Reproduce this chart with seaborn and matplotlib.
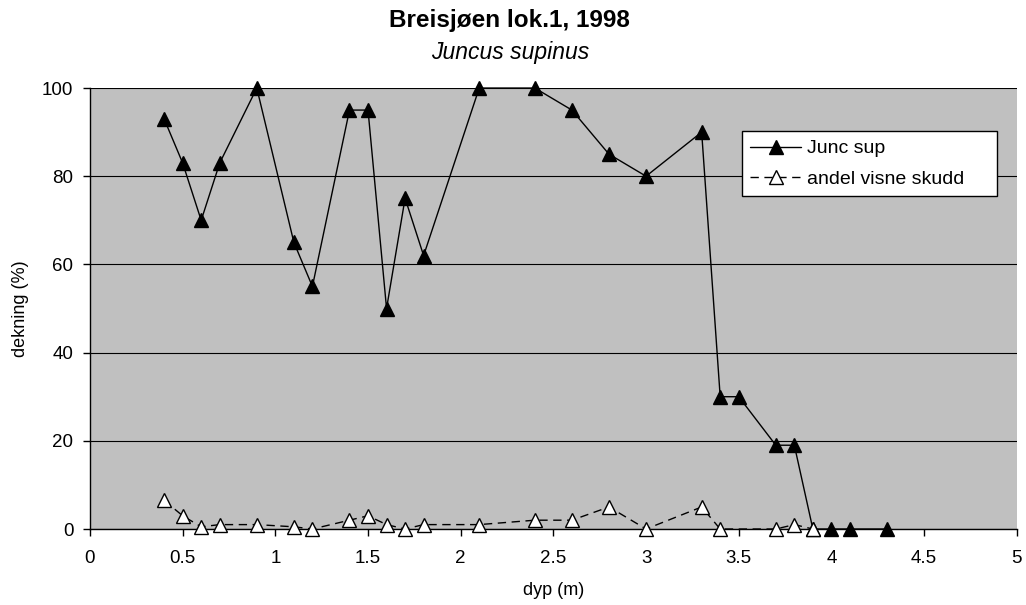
import matplotlib
matplotlib.use("Agg")
import matplotlib.pyplot as plt
import seaborn as sns
import pandas as pd

# Depth (m) and cover (%) for Juncus supinus
depth_junc = [0.4, 0.5, 0.6, 0.7, 0.9, 1.1, 1.2, 1.4, 1.5, 1.6, 1.7, 1.8,
              2.1, 2.4, 2.6, 2.8, 3.0, 3.3, 3.4, 3.5, 3.7, 3.8, 3.9, 4.0, 4.1, 4.3]
cover_junc = [93, 83, 70, 83, 100, 65, 55, 95, 95, 50, 75, 62,
              100, 100, 95, 85, 80, 90, 30, 30, 19, 19, 0, 0, 0, 0]

# Share of withered shoots
depth_wilt = [0.4, 0.5, 0.6, 0.7, 0.9, 1.1, 1.2, 1.4, 1.5, 1.6, 1.7, 1.8,
              2.1, 2.4, 2.6, 2.8, 3.0, 3.3, 3.4, 3.7, 3.8, 3.9]
share_wilt = [6.5, 3, 0.5, 1, 1, 0.5, 0, 2, 3, 1, 0, 1,
              1, 2, 2, 5, 0, 5, 0, 0, 1, 0]

x_ticks = [0, 0.5, 1, 1.5, 2, 2.5, 3, 3.5, 4, 4.5, 5]
y_ticks = [0, 20, 40, 60, 80, 100]

sns.set_theme(style="white")
plt.rcParams["font.family"] = ["Liberation Sans", "DejaVu Sans"]
plt.rcParams["text.color"] = "black"
plt.rcParams["axes.labelcolor"] = "black"

fig = plt.figure(figsize=(10.26, 6.05), dpi=100)
ax = fig.add_axes([0.0877, 0.1256, 0.9033, 0.7289])
ax.set_facecolor("#C0C0C0")

df_junc = pd.DataFrame({"dyp": depth_junc, "dekning": cover_junc})
df_wilt = pd.DataFrame({"dyp": depth_wilt, "dekning": share_wilt})

sns.lineplot(data=df_junc, x="dyp", y="dekning", ax=ax, color="black",
             linewidth=1.0, marker="^", markersize=10.5, markerfacecolor="black",
             markeredgecolor="black", markeredgewidth=1.0, label="Junc sup",
             zorder=3, clip_on=False)
sns.lineplot(data=df_wilt, x="dyp", y="dekning", ax=ax, color="black",
             linewidth=1.0, linestyle=(0, (6, 4)), marker="^", markersize=10.5,
             markerfacecolor="white", markeredgecolor="black",
             markeredgewidth=1.0, label="andel visne skudd", zorder=4,
             clip_on=False)

ax.set_xlim(0, 5)
ax.set_ylim(0, 100)
ax.set_xticks(x_ticks)
ax.set_xticklabels([f"{t:g}" for t in x_ticks])
ax.set_yticks(y_ticks)
ax.yaxis.grid(True, color="black", linewidth=0.8)
ax.set_axisbelow(True)
ax.tick_params(axis="both", direction="out", length=5, width=1, color="black",
               labelsize=13.5, labelcolor="black", bottom=True, left=True)
ax.tick_params(axis="x", pad=10)
ax.tick_params(axis="y", pad=7)

for side in ("top", "right"):
    ax.spines[side].set_visible(False)
for side in ("left", "bottom"):
    ax.spines[side].set_color("black")
    ax.spines[side].set_linewidth(1.0)

ax.set_xlabel("dyp (m)", fontsize=13, labelpad=11, color="black")
ax.set_ylabel("dekning (%)", fontsize=13, labelpad=9, color="black")

fig.text(0.497, 0.966, "Breisjøen lok.1, 1998", ha="center", va="center",
         fontsize=17.5, fontweight="bold", color="black")
fig.text(0.497, 0.913, "Juncus supinus", ha="center", va="center",
         fontsize=16.5, fontstyle="italic", color="black")

leg = ax.legend(loc="upper left", bbox_to_anchor=(0.703, 0.7483, 0.276, 0.154),
                mode="expand", frameon=True, fancybox=False, edgecolor="black",
                facecolor="white", framealpha=1, fontsize=14, handlelength=2.6,
                borderpad=0.45, labelspacing=0.65, handletextpad=0.3,
                borderaxespad=0)
leg.get_frame().set_linewidth(1.0)
for txt in leg.get_texts():
    txt.set_color("black")

fig.savefig("out.png", dpi=100)
